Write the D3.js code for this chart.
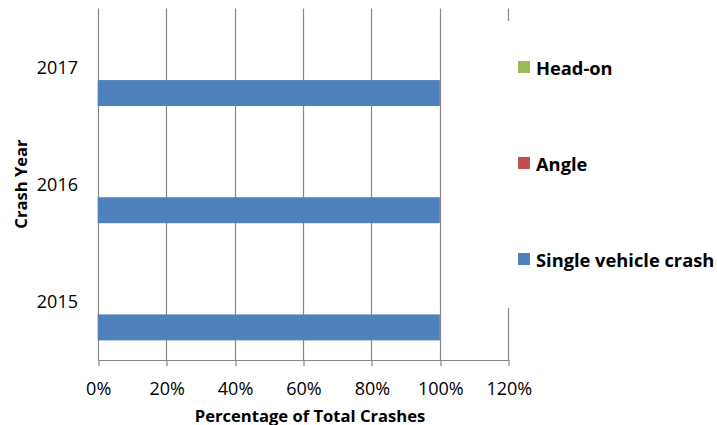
<!DOCTYPE html>
<html>
<head>
<meta charset="utf-8">
<script src="https://cdn.jsdelivr.net/npm/d3@7"></script>
<style>
  html, body { margin: 0; padding: 0; background: #fff; }
  svg { display: block; }
  text { font-family: "Open Sans", "Liberation Sans", sans-serif; fill: #000; }
</style>
</head>
<body>
<script>
// ---- data ----
const years = ["2017", "2016", "2015"];
const seriesNames = ["Head-on", "Angle", "Single vehicle crash"];
const headOn = [0, 0, 0];
const angle = [0, 0, 0];
const singleVehicle = [100, 100, 100];
const xTicks = [0, 20, 40, 60, 80, 100, 120];
const seriesColors = ["#9BBB59", "#C0504D", "#4F81BD"];
const xTitle = "Percentage of Total Crashes";
const yTitle = "Crash Year";

const W = 717, H = 425;
const svg = d3.select("body").append("svg").attr("width", W).attr("height", H);

const plotLeft = 97.7, plotRight = 508.3, plotTop = 8.5, plotBottom = 360;

const x = d3.scaleLinear().domain([0, 120]).range([plotLeft, plotRight]);
const y = d3.scaleBand().domain(years).range([plotTop, plotBottom])
  .paddingInner(0.335).paddingOuter(0.1675);
const yFull = d3.scaleBand().domain(years).range([plotTop, plotBottom]);
const yInner = d3.scaleBand().domain(seriesNames).range([0, y.bandwidth()]);

const seriesValues = [headOn, angle, singleVehicle];

// gridlines
svg.append("g").selectAll("line").data(xTicks).join("line")
  .attr("x1", d => Math.round(x(d)) + 0.5).attr("x2", d => Math.round(x(d)) + 0.5)
  .attr("y1", plotTop).attr("y2", plotBottom)
  .attr("stroke", "#868686").attr("stroke-width", 1.2);

// bars
seriesNames.forEach((s, si) => {
  svg.append("g").selectAll("rect").data(years).join("rect")
    .attr("x", x(0))
    .attr("y", d => y(d) + yInner(s))
    .attr("width", (d, i) => x(seriesValues[si][i]) - x(0))
    .attr("height", yInner.bandwidth())
    .attr("fill", seriesColors[si]);
});

// x axis
const xAxis = d3.axisBottom(x).tickValues(xTicks).tickFormat(d => d + "%").tickSize(6).tickPadding(15);
const gx = svg.append("g").attr("transform", `translate(0.5,${plotBottom})`).call(xAxis);
gx.select(".domain").attr("stroke", "#868686").attr("stroke-width", 1.2).attr("d", `M${plotLeft},0.5H${plotRight}`);
gx.selectAll(".tick line").attr("stroke", "#868686").attr("stroke-width", 1.2)
  .attr("transform", d => `translate(${Math.round(x(d)) - x(d)},0)`);
gx.selectAll(".tick text").attr("font-size", 18).attr("font-family", "Open Sans").attr("fill", "#000")
  .attr("dy", "0.75em");

// y labels
svg.append("g").selectAll("text").data(years).join("text")
  .attr("x", 78).attr("y", d => yFull(d) + yFull.bandwidth() / 2)
  .attr("text-anchor", "end").attr("dominant-baseline", "central")
  .attr("font-size", 18).text(d => d);

// axis titles
svg.append("text").attr("x", 310).attr("y", 415).attr("text-anchor", "middle")
  .attr("dominant-baseline", "central")
  .attr("font-size", 16.6).attr("font-weight", "bold").text(xTitle);
svg.append("text").attr("transform", "translate(20.5,184) rotate(-90)")
  .attr("text-anchor", "middle").attr("dominant-baseline", "central")
  .attr("font-size", 16.6).attr("font-weight", "bold").text(yTitle);

// legend (white background hides part of the last gridline)
svg.append("rect").attr("x", 505).attr("y", 21).attr("width", 212).attr("height", 287).attr("fill", "#fff");
const legendY = [67, 163, 259];
const lg = svg.append("g").selectAll("g").data(seriesNames).join("g")
  .attr("transform", (d, i) => `translate(518,${legendY[i]})`);
lg.append("rect").attr("x", 0).attr("y", -6).attr("width", 12).attr("height", 12)
  .attr("fill", (d, i) => seriesColors[i]);
lg.append("text").attr("x", 18).attr("y", 0).attr("dominant-baseline", "central")
  .attr("font-size", 18.3).attr("font-weight", "bold").text(d => d);
</script>
</body>
</html>
